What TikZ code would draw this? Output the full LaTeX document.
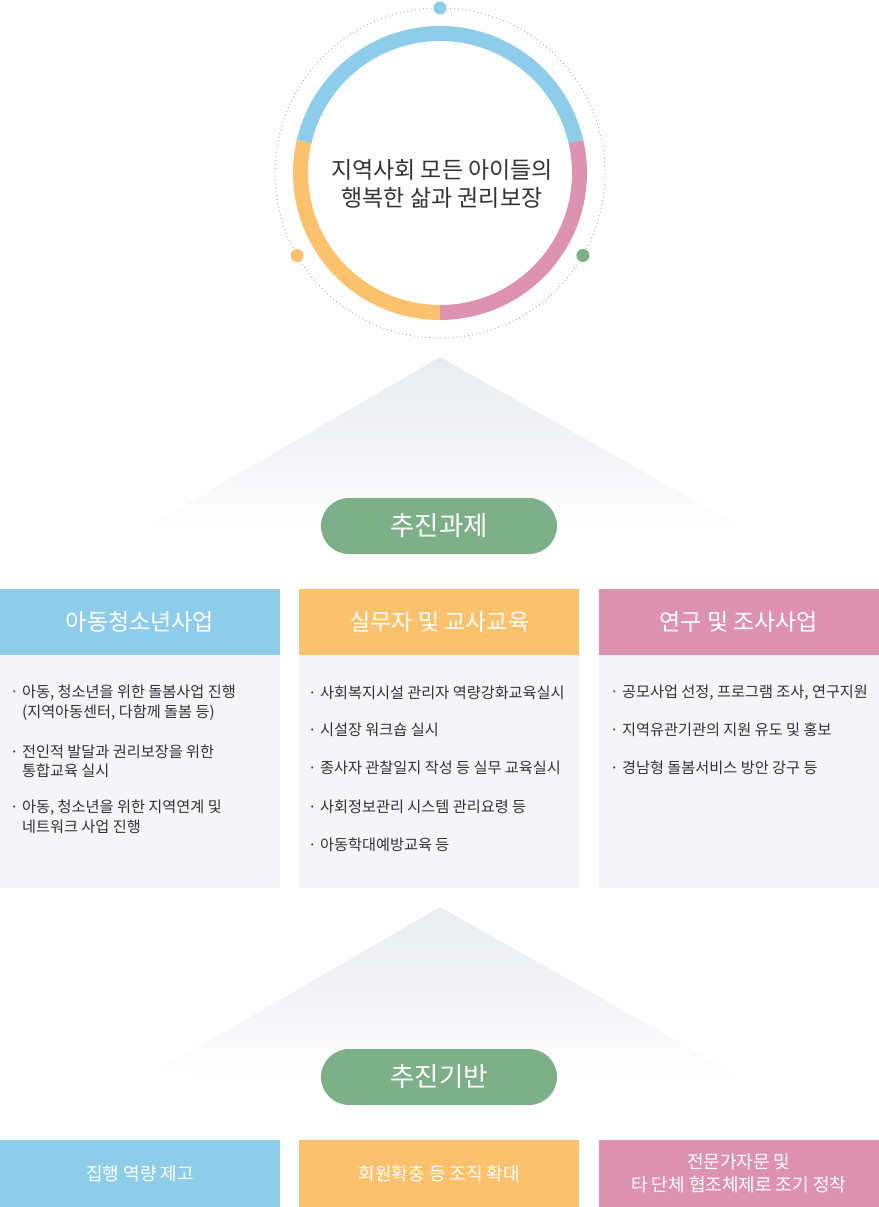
\documentclass[tikz,border=0pt]{standalone}
\usepackage{fontspec}
\setmainfont{Noto Sans CJK KR}
\usepackage{xcolor}
\usepackage{tikz}
\usetikzlibrary{positioning}

\definecolor{skyc}{HTML}{8DCDE9}
\definecolor{sunc}{HTML}{FCC16C}
\definecolor{rosec}{HTML}{DD93B0}
\definecolor{leafc}{HTML}{7DB088}
\definecolor{paperc}{HTML}{F5F5F8}
\definecolor{inkc}{HTML}{333333}
\definecolor{tric}{HTML}{EBECF1}

\begin{document}
\begin{tikzpicture}[
  x=1pt, y=-1pt,
  node distance=19pt,
  ring/.style={line width=15pt},
  orbit/.style={draw=gray!70, line width=0.9pt, dash pattern=on 0.9pt off 3pt},
  pill/.style={fill=leafc, rounded corners=28pt, text=white, minimum width=236pt,
               minimum height=56pt, font=\fontsize{26.5}{30}\selectfont},
  head/.style={minimum width=280pt, minimum height=66pt, inner sep=0pt, text=white,
               font=\fontsize{23}{27}\selectfont},
  body/.style={fill=paperc, minimum width=280pt, minimum height=233pt, inner sep=0pt},
  item/.style={anchor=west, inner sep=0pt, align=left, text=inkc,
               font=\fontsize{15.2}{19.5}\selectfont},
  foot/.style={minimum width=280pt, minimum height=67pt, inner sep=0pt, text=white,
               align=center, font=\fontsize{18}{23}\selectfont}
]
  \useasboundingbox (0,0) rectangle (878,1207);

  % goal ring
  \coordinate (hub) at (440,173);
  \draw[orbit] (hub) circle[radius=165];
  \draw[ring, skyc] (hub) ++(-13:139.5) arc[start angle=-13, end angle=-167, radius=139.5];
  \draw[ring, rosec] (hub) ++(-13:139.5) arc[start angle=-13, end angle=90, radius=139.5];
  \draw[ring, sunc] (hub) ++(90:139.5) arc[start angle=90, end angle=193, radius=139.5];
  \fill[skyc] (hub) ++(-90:165) circle[radius=6.5];
  \fill[sunc] (hub) ++(150:165) circle[radius=6.5];
  \fill[leafc] (hub) ++(30:165) circle[radius=6.5];
  \node[align=center, text=inkc, font=\fontsize{23}{28}\selectfont] (goal) at (442,184)
    {지역사회 모든 아이들의\\행복한 삶과 권리보장};

  % tasks
  \shade[top color=tric, bottom color=white, middle color=tric!60] (440,357) -- (150,525) -- (750,532) -- cycle;
  \node[pill] (tasks) at (439,526) {추진과제};

  \node[head, fill=skyc] (headA) at (140,622) {아동청소년사업};
  \node[head, fill=sunc, right=of headA] (headB) {실무자 및 교사교육};
  \node[head, fill=rosec, right=of headB] (headC) {연구 및 조사사업};
  \node[body, below=0pt of headA] (bodyA) {};
  \node[body, below=0pt of headB] (bodyB) {};
  \node[body, below=0pt of headC] (bodyC) {};

  \node[item] (careA1) at (10,702.5) {· 아동, 청소년을 위한 돌봄사업 진행\\\hphantom{·\ }(지역아동센터, 다함께 돌봄 등)};
  \node[item] (careA2) at (10,761.5) {· 전인적 발달과 권리보장을 위한\\\hphantom{·\ }통합교육 실시};
  \node[item] (careA3) at (10,817) {· 아동, 청소년을 위한 지역연계 및\\\hphantom{·\ }네트워크 사업 진행};

  \node[item] (eduB1) at (308,693) {· 사회복지시설 관리자 역량강화교육실시};
  \node[item] (eduB2) at (308,730) {· 시설장 워크숍 실시};
  \node[item] (eduB3) at (308,768) {· 종사자 관찰일지 작성 등 실무 교육실시};
  \node[item] (eduB4) at (308,807) {· 사회정보관리 시스템 관리요령 등};
  \node[item] (eduB5) at (308,845) {· 아동학대예방교육 등};

  \node[item] (studyC1) at (610,693) {· 공모사업 선정, 프로그램 조사, 연구지원};
  \node[item] (studyC2) at (610,730) {· 지역유관기관의 지원 유도 및 홍보};
  \node[item] (studyC3) at (610,768) {· 경남형 돌봄서비스 방안 강구 등};

  % base
  \shade[top color=tric, bottom color=white, middle color=tric!60] (440,907) -- (150,1075) -- (750,1082) -- cycle;
  \node[pill] (base) at (439,1077) {추진기반};

  \node[foot, fill=skyc] (footA) at (140,1173.5) {집행 역량 제고};
  \node[foot, fill=sunc, right=of footA] (footB) {회원확충 등 조직 확대};
  \node[foot, fill=rosec, right=of footB] (footC) {전문가자문 및\\타 단체 협조체제로 조기 정착};
\end{tikzpicture}
\end{document}
